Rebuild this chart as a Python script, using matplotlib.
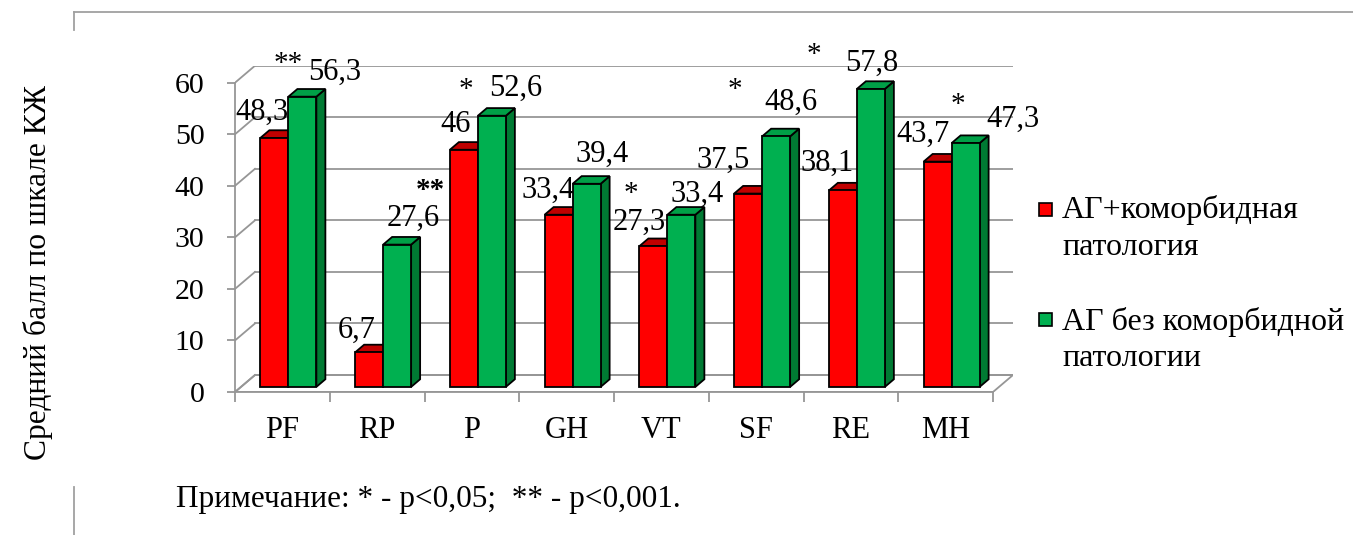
import matplotlib.pyplot as plt
from matplotlib.patches import Polygon, Rectangle
from matplotlib.lines import Line2D

plt.rcParams['font.family'] = ['Liberation Serif', 'DejaVu Serif']

# данные
categories = ['PF', 'RP', 'P', 'GH', 'VT', 'SF', 'RE', 'MH']
with_comorb = [48.3, 6.7, 46, 33.4, 27.3, 37.5, 38.1, 43.7]
without_comorb = [56.3, 27.6, 52.6, 39.4, 33.4, 48.6, 57.8, 47.3]
series_names = ['АГ+коморбидная\nпатология', 'АГ без коморбидной\nпатологии']
stars = ['**', '**', '*', '', '*', '*', '*', '*']
yticks = [0, 10, 20, 30, 40, 50, 60]

# положение подписей (пиксели от верха столбца)
red_off = [(-12, 18), (-12, 15), (-8, 18), (-11, 17), (-14, 16), (-25, 26), (-16, 20), (-15, 20)]
green_off = [(32, 17), (16, 19), (24, 20), (15, 22), (16, 13), (15, 27), (1, 18), (47, 16)]
star_off = [(-14, 26), (33, 47), (-26, 19), (0, 0), (-50, 14), (-41, 39), (-57, 27), (-8, 31)]

W, H = 1353, 535
fig = plt.figure(figsize=(W / 100, H / 100), dpi=100)


def fx(px):
    return px / W


def fy(py):
    return 1 - py / H


# оси: фронтальная плоскость 235..993 px по x, 392..82.7 px по y
ax = fig.add_axes([fx(235), fy(392), (1013 - 235) / W, (392 - 65.7) / H])
n = len(categories)
DX = 20 / 94.75        # глубина стенки по x (в единицах категорий)
DY = 17 / 5.155        # глубина стенки по y (в единицах значения)
ax.set_xlim(0, n + DX)
ax.set_ylim(0, 60 + DY)

grid_c = '#969696'
# пол
ax.add_patch(Polygon([(0, 0), (n, 0), (n + DX, DY), (DX, DY)], closed=True,
                     facecolor='white', edgecolor=grid_c, lw=1.3, zorder=1))
# сетка на задней стенке и на левой стенке
for v in yticks:
    ax.plot([DX, n + DX], [v + DY, v + DY], color=grid_c, lw=1.3, zorder=1)
    ax.plot([0, DX], [v, v + DY], color=grid_c, lw=1.3, zorder=1)

for side in ['top', 'right']:
    ax.spines[side].set_visible(False)
ax.spines['left'].set_bounds(0, 60)
ax.spines['bottom'].set_bounds(0, n)
ax.spines['left'].set_color(grid_c)
ax.spines['bottom'].set_color(grid_c)
ax.spines['left'].set_linewidth(1.3)
ax.spines['bottom'].set_linewidth(1.3)

ax.set_yticks(yticks)
ax.tick_params(axis='y', length=6, width=1.3, color=grid_c, pad=16, labelsize=21.5)
ax.set_xticks(range(n + 1))
ax.set_xticklabels([])
ax.set_xticks([i + 0.5 for i in range(n)], minor=True)
ax.set_xticklabels(categories, minor=True)
ax.tick_params(axis='x', which='major', length=7, width=1.3, color=grid_c)
ax.tick_params(axis='x', which='minor', length=0, pad=17, labelsize=22)

# столбцы с псевдо-3D
F = 0.3                # положение столбцов по глубине
G = 0.45               # толщина столбцов
BW = 28 / 94.75
base = F * DY
ddx, ddy = G * DX, G * DY

front_cols = ['#ff0000', '#00b050']
top_cols = ['#c00000', '#00a047']
side_cols = ['#a00000', '#007a33']

for s, vals in enumerate([with_comorb, without_comorb]):
    xs = [i + 0.5 + F * DX + (s - 0.5) * BW for i in range(n)]
    z = 2 + 2 * s
    for x, v in zip(xs, vals):
        x0, x1 = x - BW / 2, x + BW / 2
        top = base + v
        ax.add_patch(Polygon([(x1, base), (x1 + ddx, base + ddy), (x1 + ddx, top + ddy), (x1, top)],
                             closed=True, facecolor=side_cols[s], edgecolor='black', lw=1.3, zorder=z))
        ax.add_patch(Polygon([(x0, top), (x1, top), (x1 + ddx, top + ddy), (x0 + ddx, top + ddy)],
                             closed=True, facecolor=top_cols[s], edgecolor='black', lw=1.3, zorder=z))
    ax.bar(xs, vals, width=BW, bottom=base, color=front_cols[s], edgecolor='black',
           linewidth=1.3, zorder=z)
    offs = red_off if s == 0 else green_off
    for x, v, (dx, dy) in zip(xs, vals, offs):
        ax.annotate(f'{v:g}'.replace('.', ','), xy=(x, base + v), xytext=(dx, dy),
                    textcoords='offset pixels', ha='center', va='baseline',
                    fontsize=22, zorder=z + 1, annotation_clip=False)

# звёздочки значимости
for i, (st, (dx, dy)) in enumerate(zip(stars, star_off)):
    if not st:
        continue
    x = i + 0.5 + F * DX + BW / 2
    ax.annotate(st, xy=(x, base + without_comorb[i]), xytext=(dx, dy),
                textcoords='offset pixels', ha='center', va='baseline', fontsize=21,
                fontweight='bold' if i == 1 else 'normal', zorder=7, annotation_clip=False)

# легенда
leg_y = [(203, 218, 255), (313, 330, 366)]
for s, (sq, b1, b2) in enumerate(leg_y):
    fig.add_artist(Rectangle((fx(1039), fy(sq + 13)), 13 / W, 13 / H, facecolor=front_cols[s],
                             edgecolor='black', lw=1.2, transform=fig.transFigure))
    l1, l2 = series_names[s].split('\n')
    fig.text(fx(1062), fy(b1), l1, fontsize=23, va='baseline', ha='left')
    fig.text(fx(1062), fy(b2), l2, fontsize=23, va='baseline', ha='left')

fig.text(fx(38), fy(273), 'Средний балл по шкале КЖ', rotation=90, fontsize=22.7,
         ha='center', va='center')
fig.text(fx(176), fy(507), 'Примечание: * - p<0,05;  ** - p<0,001.', fontsize=22.5,
         ha='left', va='baseline')

# рамка документа
frame_c = '#a0a0a0'
fig.add_artist(Line2D([fx(74), 1], [fy(12), fy(12)], color=frame_c, lw=1.3))
fig.add_artist(Line2D([fx(74), fx(74)], [fy(12), fy(30)], color=frame_c, lw=1.3))
fig.add_artist(Line2D([fx(74), fx(74)], [fy(487), 0], color=frame_c, lw=1.3))

fig.savefig('out.png', dpi=100)
